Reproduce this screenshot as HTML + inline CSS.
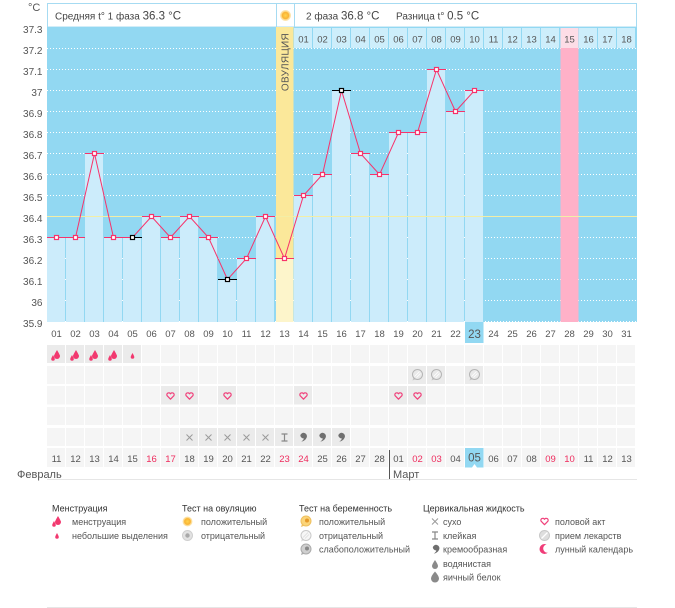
<!DOCTYPE html>
<html><head><meta charset="utf-8"><style>
html,body{margin:0;padding:0;background:#fff;}
body{width:675px;height:608px;overflow:hidden;}
svg{display:block;}
text{font-family:"Liberation Sans","DejaVu Sans",sans-serif;}
</style></head><body>
<svg width="675" height="608" viewBox="0 0 675 608" xmlns="http://www.w3.org/2000/svg">
<defs>
<pattern id="cells" patternUnits="userSpaceOnUse" x="47" y="0" width="19" height="608">
<rect x="0" y="0" width="18" height="608" fill="#f5f5f5"/>
</pattern>
<radialGradient id="sun" cx="50%" cy="50%" r="50%">
<stop offset="0" stop-color="#ffd34d"/><stop offset="0.6" stop-color="#f9b233"/><stop offset="0.75" stop-color="#fcd98a"/><stop offset="1" stop-color="#fdebc0"/>
</radialGradient>
<g id="bigdrop"><path d="M0,0 Q3,5 3,6 A3,3 0 0 1 -3,6 Q-3,5 0,0Z" fill="#f2386f"/></g>
<g id="smdrop"><path d="M0,0 Q1.8,3.2 1.8,4 A1.8,1.8 0 0 1 -1.8,4 Q-1.8,3.2 0,0Z" fill="#f2386f"/></g>
<g id="heart"><path d="M0,3.2 L-3.4,-0.3 A1.85,1.85 0 0 1 0,-2.2 A1.85,1.85 0 0 1 3.4,-0.3 Z" fill="none" stroke="#f0417b" stroke-width="1.2" stroke-linejoin="round"/></g>
<g id="bubble"><path d="M-4,3 L-5,6 L-1.5,4.6 Z" fill="#c8c8c8"/><circle cx="0" cy="0" r="5" fill="#e9e9e9" stroke="#b5b5b5" stroke-width="1"/><path d="M-3,2 L2,-3 M-1,3 L3,-1" stroke="#fff" stroke-width="0.8"/></g>
<g id="cross"><path d="M-3,-3 L3,3 M3,-3 L-3,3" stroke="#9a9a9a" stroke-width="1"/></g>
<g id="sticky"><path d="M-3,-3.5 H3 M-3,3.5 H3 M0,-3.5 V3.5" stroke="#888" stroke-width="1.2"/></g>
<g id="cream"><path d="M-3.2,-0.8 A3.4,3.4 0 1 1 3.3,1.2 Q2,4.8 -2.2,5.6 Q0.6,3.6 0.2,2.4 A3.4,3.4 0 0 1 -3.2,-0.8Z" fill="#6f6f6f"/></g>
</defs>

<!-- header -->
<text x="28" y="11" font-size="11" fill="#555">°C</text>
<rect x="47.5" y="3.5" width="589" height="23.5" fill="#fff" stroke="#a6dbf2"/>
<line x1="276.5" y1="3.5" x2="276.5" y2="27" stroke="#a6dbf2"/>
<line x1="294.5" y1="3.5" x2="294.5" y2="27" stroke="#a6dbf2"/>
<circle cx="285.5" cy="15.5" r="5.5" fill="url(#sun)"/>
<text x="55" y="19.5" font-size="10" fill="#444">Средняя t° 1 фаза <tspan font-size="11.5">36.3 °C</tspan></text>
<text x="306" y="19.5" font-size="10" fill="#444">2 фаза <tspan font-size="11.5">36.8 °C</tspan></text>
<text x="396" y="19.5" font-size="10" fill="#444">Разница t° <tspan font-size="11.5">0.5 °C</tspan></text>

<!-- plot background -->
<rect x="47" y="27" width="590" height="295" fill="#92d8f2"/>

<!-- gridlines -->
<g stroke="#fff" stroke-width="1" stroke-dasharray="1 2">
<line x1="47" y1="48.5" x2="637" y2="48.5"/>
<line x1="47" y1="69.5" x2="637" y2="69.5"/>
<line x1="47" y1="90.5" x2="637" y2="90.5"/>
<line x1="47" y1="111.5" x2="637" y2="111.5"/>
<line x1="47" y1="132.5" x2="637" y2="132.5"/>
<line x1="47" y1="153.5" x2="637" y2="153.5"/>
<line x1="47" y1="174.5" x2="637" y2="174.5"/>
<line x1="47" y1="195.5" x2="637" y2="195.5"/>
<line x1="47" y1="237.5" x2="637" y2="237.5"/>
<line x1="47" y1="258.5" x2="637" y2="258.5"/>
<line x1="47" y1="279.5" x2="637" y2="279.5"/>
<line x1="47" y1="300.5" x2="637" y2="300.5"/>
<line x1="47" y1="321.5" x2="637" y2="321.5"/>
</g>

<!-- bars -->
<g fill="#ccecfb">
<rect x="47" y="237" width="18" height="85"/>
<rect x="66" y="237" width="18" height="85"/>
<rect x="85" y="153" width="18" height="169"/>
<rect x="104" y="237" width="18" height="85"/>
<rect x="123" y="237" width="18" height="85"/>
<rect x="142" y="216" width="18" height="106"/>
<rect x="161" y="237" width="18" height="85"/>
<rect x="180" y="216" width="18" height="106"/>
<rect x="199" y="237" width="18" height="85"/>
<rect x="218" y="279" width="18" height="43"/>
<rect x="237" y="258" width="18" height="64"/>
<rect x="256" y="216" width="18" height="106"/>
<rect x="294" y="195" width="18" height="127"/>
<rect x="313" y="174" width="18" height="148"/>
<rect x="332" y="90" width="18" height="232"/>
<rect x="351" y="153" width="18" height="169"/>
<rect x="370" y="174" width="18" height="148"/>
<rect x="389" y="132" width="18" height="190"/>
<rect x="408" y="132" width="18" height="190"/>
<rect x="427" y="69" width="18" height="253"/>
<rect x="446" y="111" width="18" height="211"/>
<rect x="465" y="90" width="18" height="232"/>
</g>

<!-- ovulation column -->
<rect x="276" y="27" width="17.5" height="231" fill="#fbe89a"/>
<rect x="276" y="258" width="17.5" height="64" fill="#fdf5cb"/>
<text transform="translate(288.5,62) rotate(-90)" text-anchor="middle" font-size="10" letter-spacing="0.3" fill="#555">ОВУЛЯЦИЯ</text>

<!-- pink column -->
<rect x="560.5" y="48" width="18" height="274" fill="#ffb1c8"/>

<!-- phase 2 day row -->
<g fill="#cdeefb">
<rect x="294" y="28" width="18" height="20"/><rect x="313" y="28" width="18" height="20"/><rect x="332" y="28" width="18" height="20"/><rect x="351" y="28" width="18" height="20"/><rect x="370" y="28" width="18" height="20"/><rect x="389" y="28" width="18" height="20"/><rect x="408" y="28" width="18" height="20"/><rect x="427" y="28" width="18" height="20"/><rect x="446" y="28" width="18" height="20"/><rect x="465" y="28" width="18" height="20"/><rect x="484" y="28" width="18" height="20"/><rect x="503" y="28" width="18" height="20"/><rect x="522" y="28" width="18" height="20"/><rect x="541" y="28" width="18" height="20"/><rect x="579" y="28" width="18" height="20"/><rect x="598" y="28" width="18" height="20"/><rect x="617" y="28" width="18" height="20"/>
</g>
<rect x="560.5" y="28" width="18" height="20" fill="#fddde7"/>
<g font-size="9.5" fill="#555" text-anchor="middle">
<text x="303.5" y="42.5">01</text><text x="322.5" y="42.5">02</text><text x="341.5" y="42.5">03</text><text x="360.5" y="42.5">04</text><text x="379.5" y="42.5">05</text><text x="398.5" y="42.5">06</text><text x="417.5" y="42.5">07</text><text x="436.5" y="42.5">08</text><text x="455.5" y="42.5">09</text><text x="474.5" y="42.5">10</text><text x="493.5" y="42.5">11</text><text x="512.5" y="42.5">12</text><text x="531.5" y="42.5">13</text><text x="550.5" y="42.5">14</text><text x="569.5" y="42.5">15</text><text x="588.5" y="42.5">16</text><text x="607.5" y="42.5">17</text><text x="626.5" y="42.5">18</text>
</g>

<!-- coverline -->
<line x1="47" y1="216.5" x2="637" y2="216.5" stroke="#f3eea6" stroke-width="1"/>

<!-- value marks -->
<g stroke="#f7336b" stroke-width="1">
<line x1="47" y1="237.5" x2="66" y2="237.5"/>
<line x1="66" y1="237.5" x2="85" y2="237.5"/>
<line x1="85" y1="153.5" x2="104" y2="153.5"/>
<line x1="104" y1="237.5" x2="123" y2="237.5"/>
<line x1="142" y1="216.5" x2="161" y2="216.5"/>
<line x1="161" y1="237.5" x2="180" y2="237.5"/>
<line x1="180" y1="216.5" x2="199" y2="216.5"/>
<line x1="199" y1="237.5" x2="218" y2="237.5"/>
<line x1="237" y1="258.5" x2="256" y2="258.5"/>
<line x1="256" y1="216.5" x2="275" y2="216.5"/>
<line x1="275" y1="258.5" x2="294" y2="258.5"/>
<line x1="294" y1="195.5" x2="313" y2="195.5"/>
<line x1="313" y1="174.5" x2="332" y2="174.5"/>
<line x1="351" y1="153.5" x2="370" y2="153.5"/>
<line x1="370" y1="174.5" x2="389" y2="174.5"/>
<line x1="389" y1="132.5" x2="408" y2="132.5"/>
<line x1="408" y1="132.5" x2="427" y2="132.5"/>
<line x1="427" y1="69.5" x2="446" y2="69.5"/>
<line x1="446" y1="111.5" x2="465" y2="111.5"/>
<line x1="465" y1="90.5" x2="484" y2="90.5"/>
</g>
<g stroke="#000" stroke-width="1">
<line x1="123" y1="237.5" x2="142" y2="237.5"/>
<line x1="218" y1="279.5" x2="237" y2="279.5"/>
<line x1="332" y1="90.5" x2="351" y2="90.5"/>
</g>

<polyline fill="none" stroke="#f7336b" stroke-width="1" points="56.5,237.5 75.5,237.5 94.5,153.5 113.5,237.5 132.5,237.5 151.5,216.5 170.5,237.5 189.5,216.5 208.5,237.5 227.5,279.5 246.5,258.5 265.5,216.5 284.5,258.5 303.5,195.5 322.5,174.5 341.5,90.5 360.5,153.5 379.5,174.5 398.5,132.5 417.5,132.5 436.5,69.5 455.5,111.5 474.5,90.5"/>

<!-- markers -->
<g fill="#fff" stroke="#f7336b" stroke-width="1.2">
<rect x="54.5" y="235.5" width="4" height="4"/>
<rect x="73.5" y="235.5" width="4" height="4"/>
<rect x="92.5" y="151.5" width="4" height="4"/>
<rect x="111.5" y="235.5" width="4" height="4"/>
<rect x="149.5" y="214.5" width="4" height="4"/>
<rect x="168.5" y="235.5" width="4" height="4"/>
<rect x="187.5" y="214.5" width="4" height="4"/>
<rect x="206.5" y="235.5" width="4" height="4"/>
<rect x="244.5" y="256.5" width="4" height="4"/>
<rect x="263.5" y="214.5" width="4" height="4"/>
<rect x="282.5" y="256.5" width="4" height="4"/>
<rect x="301.5" y="193.5" width="4" height="4"/>
<rect x="320.5" y="172.5" width="4" height="4"/>
<rect x="358.5" y="151.5" width="4" height="4"/>
<rect x="377.5" y="172.5" width="4" height="4"/>
<rect x="396.5" y="130.5" width="4" height="4"/>
<rect x="415.5" y="130.5" width="4" height="4"/>
<rect x="434.5" y="67.5" width="4" height="4"/>
<rect x="453.5" y="109.5" width="4" height="4"/>
<rect x="472.5" y="88.5" width="4" height="4"/>
</g>
<g fill="#fff" stroke="#000" stroke-width="1.2">
<rect x="130.5" y="235.5" width="4" height="4"/>
<rect x="225.5" y="277.5" width="4" height="4"/>
<rect x="339.5" y="88.5" width="4" height="4"/>
</g>

<!-- y axis labels -->
<g font-size="10" fill="#555" text-anchor="end">
<text x="42.5" y="33">37.3</text>
<text x="42.5" y="54">37.2</text>
<text x="42.5" y="75">37.1</text>
<text x="42.5" y="96">37</text>
<text x="42.5" y="117">36.9</text>
<text x="42.5" y="138">36.8</text>
<text x="42.5" y="159">36.7</text>
<text x="42.5" y="180">36.6</text>
<text x="42.5" y="201">36.5</text>
<text x="42.5" y="222">36.4</text>
<text x="42.5" y="243">36.3</text>
<text x="42.5" y="264">36.2</text>
<text x="42.5" y="285">36.1</text>
<text x="42.5" y="306">36</text>
<text x="42.5" y="327">35.9</text>
</g>

<!-- cycle day numbers -->
<rect x="465" y="322" width="18.5" height="21" fill="#92d8f2"/>
<g font-size="9.5" fill="#555" text-anchor="middle">
<text x="56.5" y="337">01</text><text x="75.5" y="337">02</text><text x="94.5" y="337">03</text><text x="113.5" y="337">04</text><text x="132.5" y="337">05</text><text x="151.5" y="337">06</text><text x="170.5" y="337">07</text><text x="189.5" y="337">08</text><text x="208.5" y="337">09</text><text x="227.5" y="337">10</text><text x="246.5" y="337">11</text><text x="265.5" y="337">12</text><text x="284.5" y="337">13</text><text x="303.5" y="337">14</text><text x="322.5" y="337">15</text><text x="341.5" y="337">16</text><text x="360.5" y="337">17</text><text x="379.5" y="337">18</text><text x="398.5" y="337">19</text><text x="417.5" y="337">20</text><text x="436.5" y="337">21</text><text x="455.5" y="337">22</text><text x="474.5" y="338" font-size="11.5">23</text><text x="493.5" y="337">24</text><text x="512.5" y="337">25</text><text x="531.5" y="337">26</text><text x="550.5" y="337">27</text><text x="569.5" y="337">28</text><text x="588.5" y="337">29</text><text x="607.5" y="337">30</text><text x="626.5" y="337">31</text>
</g>

<!-- icon rows -->
<rect x="47" y="345" width="589" height="18" fill="url(#cells)"/>
<rect x="47" y="366" width="589" height="18" fill="url(#cells)"/>
<rect x="47" y="386" width="589" height="18.5" fill="url(#cells)"/>
<rect x="47" y="407" width="589" height="18" fill="url(#cells)"/>
<rect x="47" y="428" width="589" height="18" fill="url(#cells)"/>
<rect x="47" y="448" width="589" height="19" fill="url(#cells)"/>

<g fill="#ebebeb">
<rect x="47" y="345" width="18" height="18"/><rect x="66" y="345" width="18" height="18"/><rect x="85" y="345" width="18" height="18"/><rect x="104" y="345" width="18" height="18"/><rect x="123" y="345" width="18" height="18"/>
<rect x="408" y="366" width="18" height="18"/><rect x="427" y="366" width="18" height="18"/><rect x="465" y="366" width="18" height="18"/>
<rect x="161" y="386" width="18" height="18.5"/><rect x="180" y="386" width="18" height="18.5"/><rect x="218" y="386" width="18" height="18.5"/><rect x="294" y="386" width="18" height="18.5"/><rect x="389" y="386" width="18" height="18.5"/><rect x="408" y="386" width="18" height="18.5"/>
<rect x="180" y="428" width="18" height="18"/><rect x="199" y="428" width="18" height="18"/><rect x="218" y="428" width="18" height="18"/><rect x="237" y="428" width="18" height="18"/><rect x="256" y="428" width="18" height="18"/><rect x="275" y="428" width="18" height="18"/><rect x="294" y="428" width="18" height="18"/><rect x="313" y="428" width="18" height="18"/><rect x="332" y="428" width="18" height="18"/>
</g>

<!-- menstruation -->
<g>
<use href="#bigdrop" x="57" y="350"/><use href="#smdrop" x="53" y="355"/>
<use href="#bigdrop" x="76" y="350"/><use href="#smdrop" x="72" y="355"/>
<use href="#bigdrop" x="95" y="350"/><use href="#smdrop" x="91" y="355"/>
<use href="#bigdrop" x="114" y="350"/><use href="#smdrop" x="110" y="355"/>
<use href="#smdrop" x="132.5" y="353"/>
</g>
<!-- pregnancy tests -->
<use href="#bubble" x="417.5" y="374.5"/>
<use href="#bubble" x="436.5" y="374.5"/>
<use href="#bubble" x="474.5" y="374.5"/>
<!-- hearts -->
<use href="#heart" x="170.5" y="396"/>
<use href="#heart" x="189.5" y="396"/>
<use href="#heart" x="227.5" y="396"/>
<use href="#heart" x="303.5" y="396"/>
<use href="#heart" x="398.5" y="396"/>
<use href="#heart" x="417.5" y="396"/>
<!-- cervical fluid -->
<use href="#cross" x="189.5" y="437.5"/>
<use href="#cross" x="208.5" y="437.5"/>
<use href="#cross" x="227.5" y="437.5"/>
<use href="#cross" x="246.5" y="437.5"/>
<use href="#cross" x="265.5" y="437.5"/>
<use href="#sticky" x="284.5" y="437.5"/>
<use href="#cream" x="303.5" y="436"/>
<use href="#cream" x="322.5" y="436"/>
<use href="#cream" x="341.5" y="436"/>

<!-- date row -->
<rect x="465" y="448" width="18.5" height="19.5" fill="#92d8f2"/>
<polygon points="472,467.5 477,467.5 474.5,464" fill="#fff"/>
<g font-size="9.5" fill="#555" text-anchor="middle">
<text x="56.5" y="462">11</text><text x="75.5" y="462">12</text><text x="94.5" y="462">13</text><text x="113.5" y="462">14</text><text x="132.5" y="462">15</text><text x="151.5" y="462" fill="#ee2c5e">16</text><text x="170.5" y="462" fill="#ee2c5e">17</text><text x="189.5" y="462">18</text><text x="208.5" y="462">19</text><text x="227.5" y="462">20</text><text x="246.5" y="462">21</text><text x="265.5" y="462">22</text><text x="284.5" y="462" fill="#ee2c5e">23</text><text x="303.5" y="462" fill="#ee2c5e">24</text><text x="322.5" y="462">25</text><text x="341.5" y="462">26</text><text x="360.5" y="462">27</text><text x="379.5" y="462">28</text><text x="398.5" y="462">01</text><text x="417.5" y="462" fill="#ee2c5e">02</text><text x="436.5" y="462" fill="#ee2c5e">03</text><text x="455.5" y="462">04</text><text x="474.5" y="461.5" font-size="11.5">05</text><text x="493.5" y="462">06</text><text x="512.5" y="462">07</text><text x="531.5" y="462">08</text><text x="550.5" y="462" fill="#ee2c5e">09</text><text x="569.5" y="462" fill="#ee2c5e">10</text><text x="588.5" y="462">11</text><text x="607.5" y="462">12</text><text x="626.5" y="462">13</text>
</g>
<line x1="389.5" y1="450" x2="389.5" y2="479" stroke="#555" stroke-width="1"/>
<line x1="47" y1="479.5" x2="637" y2="479.5" stroke="#e6e6e6" stroke-width="1"/>
<text x="17" y="478" font-size="11" fill="#555">Февраль</text>
<text x="393" y="478" font-size="11" fill="#555">Март</text>

<!-- legend -->
<g font-size="9" fill="#333">
<text x="52" y="511.5">Менструация</text>
<text x="182" y="511.5">Тест на овуляцию</text>
<text x="299" y="511.5">Тест на беременность</text>
<text x="423" y="511.5">Цервикальная жидкость</text>
</g>
<g font-size="9" fill="#555">
<text x="72" y="525">менструация</text>
<text x="72" y="539">небольшие выделения</text>
<text x="201" y="525">положительный</text>
<text x="201" y="539">отрицательный</text>
<text x="319" y="525">положительный</text>
<text x="319" y="539">отрицательный</text>
<text x="319" y="552.5">слабоположительный</text>
<text x="443" y="525">сухо</text>
<text x="443" y="539">клейкая</text>
<text x="443" y="552.5">кремообразная</text>
<text x="443" y="567">водянистая</text>
<text x="443" y="580.5">яичный белок</text>
<text x="555" y="525">половой акт</text>
<text x="555" y="539">прием лекарств</text>
<text x="555" y="552.5">лунный календарь</text>
</g>
<!-- legend icons -->
<use href="#bigdrop" x="58" y="516"/><use href="#smdrop" x="54" y="521"/>
<use href="#smdrop" x="57" y="533"/>
<circle cx="187.5" cy="521.5" r="5" fill="url(#sun)"/>
<circle cx="187.5" cy="535.5" r="5" fill="#e2e2e2" stroke="#cfcfcf"/>
<circle cx="187.5" cy="535.5" r="2.2" fill="#a9a9a9"/>
<g transform="translate(306,521)"><path d="M-4,3 L-5,6 L-1.5,4.6 Z" fill="#f0c060"/><circle r="5" fill="#fbd57a" stroke="#eec060"/><circle cx="1" cy="-0.5" r="2" fill="#e59a2a"/></g>
<g transform="translate(306,535.5)"><path d="M-4,3 L-5,6 L-1.5,4.6 Z" fill="#ddd"/><circle r="5" fill="#f7f7f7" stroke="#c9c9c9"/><path d="M-3,2 L2,-3 M-1,3 L3,-1" stroke="#ddd" stroke-width="0.8"/></g>
<g transform="translate(306,549)"><path d="M-4,3 L-5,6 L-1.5,4.6 Z" fill="#aaa"/><circle r="5" fill="#cfcfcf" stroke="#aaa"/><circle cx="1" cy="-0.5" r="2" fill="#888"/></g>
<use href="#cross" x="435" y="521.5"/>
<use href="#sticky" x="435" y="535.5"/>
<use href="#cream" x="436" y="548"/>
<path d="M435,560 Q438,564.5 438,566 A3,3 0 0 1 432,566 Q432,564.5 435,560Z" fill="#8a8a8a"/>
<path d="M435,571.5 Q439,576 439,578.5 A4,4 0 0 1 431,578.5 Q431,576 435,571.5Z" fill="#8a8a8a"/>
<use href="#heart" x="544.5" y="521.5"/>
<circle cx="544.5" cy="535.5" r="5" fill="#dedede" stroke="#c8c8c8"/>
<line x1="541.5" y1="538.5" x2="547.5" y2="532.5" stroke="#fff" stroke-width="1.3"/>
<circle cx="544.5" cy="549" r="5" fill="#f03c78"/>
<circle cx="547.5" cy="548.5" r="4.3" fill="#fff"/>
<line x1="47" y1="607.5" x2="637" y2="607.5" stroke="#e6e6e6" stroke-width="1"/>
</svg>
</body></html>
